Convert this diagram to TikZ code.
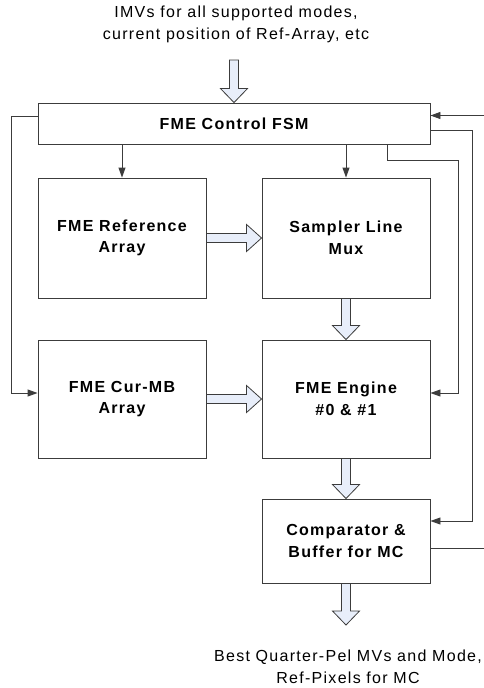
\documentclass[tikz,border=0pt]{standalone}
\usepackage{fontspec}
\setmainfont{Liberation Sans}
\newfontfamily\widesans[LetterSpace=8]{Liberation Sans}
\usetikzlibrary{calc,arrows.meta}

\definecolor{linegray}{RGB}{60,60,60}
\definecolor{arrowfill}{RGB}{232,238,250}

\tikzset{
  block/.style={draw=linegray,line width=0.9pt,minimum width=168pt,align=center,
    font=\widesans\fontsize{16}{21.5}\selectfont\bfseries},
  sig/.style={draw=linegray,line width=0.9pt,-{Triangle[length=10pt,width=7pt]}},
  fatarrow/.style={draw=linegray,line width=0.8pt,fill=arrowfill},
  caption/.style={align=center,font=\widesans\fontsize{16}{22}\selectfont}
}

% hollow block arrows (vertical: down, horizontal: right)
\newcommand{\fatdown}[2]{%
  \draw[fatarrow] ($(#1)+(-4.5,0)$) -- ($(#2)+(-4.5,-14)$) -- ($(#2)+(-13.5,-14)$)
    -- (#2) -- ($(#2)+(13.5,-14)$) -- ($(#2)+(4.5,-14)$) -- ($(#1)+(4.5,0)$) -- cycle;}
\newcommand{\fatright}[2]{%
  \draw[fatarrow] ($(#1)+(0,-4.5)$) -- ($(#2)+(-15,-4.5)$) -- ($(#2)+(-15,-13.5)$)
    -- (#2) -- ($(#2)+(-15,13.5)$) -- ($(#2)+(-15,4.5)$) -- ($(#1)+(0,4.5)$) -- cycle;}

\begin{document}
\begin{tikzpicture}[x=1pt,y=-1pt]
  \useasboundingbox (0,0) rectangle (483,688);

  % texts at top and bottom
  \node[caption] (inlbl) at (236,24.5) {IMVs for all supported modes,\\current position of Ref-Array, etc};
  \node[caption] (outlbl) at (348,667) {Best Quarter-Pel MVs and Mode,\\Ref-Pixels for MC};

  % boxes
  \node[block,minimum width=392pt,minimum height=41pt] (fsm) at (234,123.5) {FME Control FSM};
  \node[block,minimum height=120pt] (ref) at (122,238) {FME Reference\\Array};
  \node[block,minimum height=120pt] (samp) at (346,238) {Sampler Line\\Mux};
  \node[block,minimum height=118pt] (cur) at (122,399) {FME Cur-MB\\Array};
  \node[block,minimum height=118pt] (eng) at (346,399) {FME Engine\\\#0 \& \#1};
  \node[block,minimum height=84pt] (cmp) at (346,541) {Comparator \&\\Buffer for MC};

  \coordinate (intop) at (234,60);
  \coordinate (outtip) at (346,625);

  % data paths
  \fatdown{intop}{fsm.north}
  \fatright{ref.east}{samp.west}
  \fatright{cur.east}{eng.west}
  \fatdown{samp.south}{eng.north}
  \fatdown{eng.south}{cmp.north}
  \fatdown{cmp.south}{outtip}

  % control lines
  \draw[sig] (fsm.south -| ref.north) -- (ref.north);
  \draw[sig] (fsm.south -| samp.north) -- (samp.north);
  \draw[sig] ([yshift=7pt]fsm.west) -- ++(-26,0) |- ([yshift=6pt]cur.west);
  \draw[sig] ([xshift=153pt]fsm.south) -- ++(0,16) -- ++(71,0) |- ([yshift=6pt]eng.east);
  \draw[sig] ([yshift=-7pt]fsm.east) -- ++(42,0) |- ([yshift=20pt]cmp.east);
  \draw[sig] ([yshift=-7pt]cmp.east) -- ++(62,0) |- ([yshift=8pt]fsm.east);
\end{tikzpicture}
\end{document}
